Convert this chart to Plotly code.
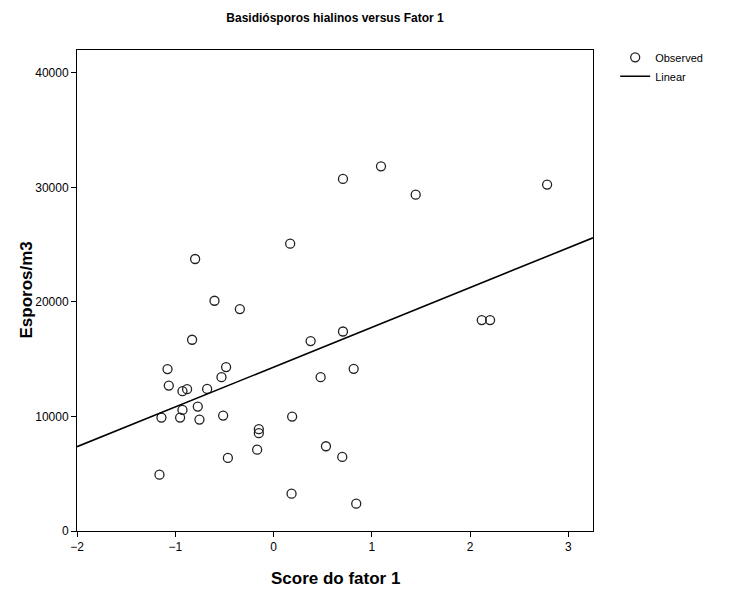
import numpy as np
import plotly.graph_objects as go

# Observed data (factor score, spores/m3)
score = [-0.798, -0.601, -0.343, -0.829, -1.079, -0.483, -0.530, -1.066, -0.927, -0.880,
         -0.676, -0.927, -0.771, -1.141, -0.951, -0.754, -0.513, -0.150, -0.150, -0.167,
         -0.465, -1.161, 0.377, 0.706, 0.815, 0.479, 0.189, 0.533, 0.699, 0.183,
         0.841, 0.706, 1.093, 1.446, 0.169, 2.783, 2.118, 2.203]
esporos = [23750, 20105, 19380, 16700, 14135, 14310, 13435, 12700, 12210, 12385,
           12410, 10575, 10865, 9905, 9905, 9730, 10080, 8890, 8540, 7105,
           6380, 4920, 16580, 17420, 14160, 13435, 9990, 7400, 6470, 3260,
           2385, 30740, 31845, 29370, 25090, 30245, 18420, 18420]

x_range = [-2, 3.25]
y_range = [0, 42000]
x_ticks = [-2, -1, 0, 1, 2, 3]
y_ticks = [0, 10000, 20000, 30000, 40000]

slope, intercept = np.polyfit(score, esporos, 1)
line_x = np.array(x_range)
line_y = intercept + slope * line_x

FONT = "Liberation Sans, Arial, sans-serif"

fig = go.Figure()
fig.add_trace(go.Scatter(
    x=score, y=esporos, mode="markers", name="Observed",
    marker=dict(symbol="circle-open", size=9, color="#222222", line=dict(width=1.3, color="#222222")),
))
fig.add_trace(go.Scatter(
    x=line_x, y=line_y, mode="lines", name="Linear",
    line=dict(color="black", width=1.6),
))

fig.update_layout(
    width=731, height=589,
    margin=dict(l=77, r=138, t=50, b=58),
    paper_bgcolor="white", plot_bgcolor="white",
    font=dict(family=FONT, size=11, color="black"),
    title=dict(text="<b>Basidiósporos hialinos versus Fator 1</b>",
               x=0.5, xref="paper", xanchor="center",
               y=1 - 18 / 589, yref="container", yanchor="middle",
               font=dict(family=FONT, size=12, color="black")),
    showlegend=True,
    legend=dict(x=1.043, xanchor="left", y=1.015, yanchor="top",
                font=dict(family=FONT, size=11, color="black"),
                bgcolor="rgba(0,0,0,0)", tracegroupgap=0, itemwidth=30),
    xaxis=dict(range=x_range, tickvals=x_ticks, ticks="outside", ticklen=5, tickcolor="black",
               showline=True, linecolor="black", linewidth=1, mirror=True,
               showgrid=False, zeroline=False, tickfont=dict(size=12)),
    yaxis=dict(range=y_range, tickvals=y_ticks, tickformat="d", ticks="outside", ticklen=5,
               tickcolor="black", showline=True, linecolor="black", linewidth=1, mirror=True,
               showgrid=False, zeroline=False, tickfont=dict(size=12)),
    annotations=[
        dict(text="<b>Score do fator 1</b>", xref="paper", yref="paper", x=0.5, y=(531 - 578) / 481,
             xanchor="center", yanchor="middle", showarrow=False,
             font=dict(family=FONT, size=17, color="black")),
        dict(text="<b>Esporos/m3</b>", xref="paper", yref="paper", x=(26 - 77) / 516, y=0.5,
             xanchor="center", yanchor="middle", textangle=-90, showarrow=False,
             font=dict(family=FONT, size=17, color="black")),
    ],
)

fig.write_html("out.html")
